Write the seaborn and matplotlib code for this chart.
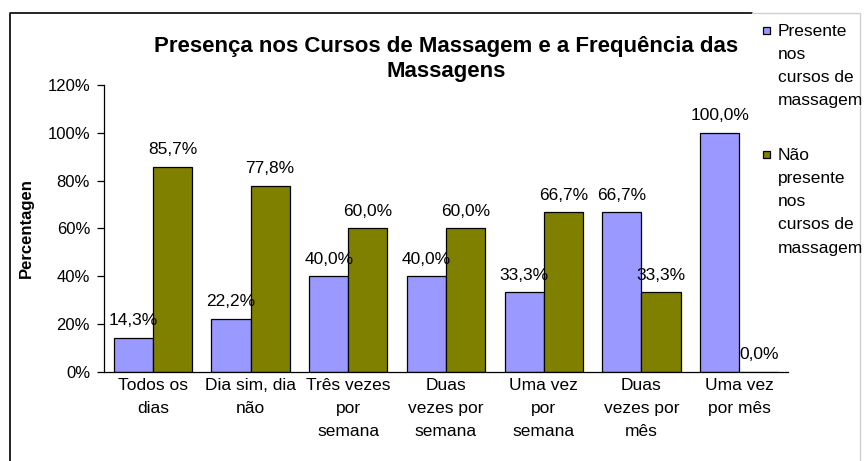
import numpy as np
import pandas as pd
import matplotlib
matplotlib.use('Agg')
import matplotlib.pyplot as plt
import seaborn as sns
from matplotlib.lines import Line2D
from matplotlib.patches import Rectangle

# Data
categorias = ["Todos os\ndias", "Dia sim, dia\nnão", "Três vezes\npor\nsemana",
              "Duas\nvezes por\nsemana", "Uma vez\npor\nsemana", "Duas\nvezes por\nmês",
              "Uma vez\npor mês"]
presente = [14.3, 22.2, 40.0, 40.0, 33.3, 66.7, 100.0]
nao_presente = [85.7, 77.8, 60.0, 60.0, 66.7, 33.3, 0.0]
series = ["Presente\nnos\ncursos de\nmassagem", "Não\npresente\nnos\ncursos de\nmassagem"]
cores = ["#9999FF", "#808000"]

df = pd.DataFrame({
    "Categoria": categorias * 2,
    "Valor": presente + nao_presente,
    "Serie": [series[0]] * len(categorias) + [series[1]] * len(categorias),
})

sns.set_style("white")
plt.rcParams['font.family'] = ['Liberation Sans', 'DejaVu Sans']
plt.rcParams['text.color'] = 'black'
plt.rcParams['axes.labelcolor'] = 'black'
plt.rcParams['xtick.color'] = 'black'
plt.rcParams['ytick.color'] = 'black'

W, H = 865, 461
fs = 12.5
fx = lambda px: px / W
fy = lambda py: 1 - py / H

fig = plt.figure(figsize=(W / 100, H / 100), dpi=100)
ax = fig.add_axes([fx(104), fy(372), (788 - 104) / W, (372 - 85) / H])

sns.barplot(data=df, x="Categoria", y="Valor", hue="Serie", palette=cores, saturation=1,
            edgecolor="black", linewidth=0.9, width=0.8, ax=ax, legend=False)

# data labels
for cont, vals in zip(ax.containers, [presente, nao_presente]):
    ax.bar_label(cont, labels=[f"{v:.1f}%".replace(".", ",") for v in vals],
                 padding=7, fontsize=fs)

ax.set_ylim(0, 120)
ax.set_yticks(np.arange(0, 121, 20))
ax.set_yticklabels([f"{t}%" for t in range(0, 121, 20)], fontsize=12)
ax.set_xlim(-0.5, len(categorias) - 0.5)
ax.set_xticks(range(len(categorias)))
ax.set_xticklabels(categorias, fontsize=fs, linespacing=1.7, va="top")
ax.set_xticks(np.arange(-0.5, len(categorias), 1), minor=True)
ax.tick_params(axis="x", which="major", length=0, pad=4)
ax.tick_params(axis="x", which="minor", length=5, width=0.9, direction="out")
ax.tick_params(axis="y", length=5, width=0.9, direction="out", left=True, pad=5)
ax.set_xlabel("")
ax.set_ylabel("Percentagen", fontsize=12, fontweight="bold", labelpad=10)
for s in ["top", "right"]:
    ax.spines[s].set_visible(False)
for s in ["left", "bottom"]:
    ax.spines[s].set_color("black")
    ax.spines[s].set_linewidth(0.9)

fig.text(fx(446), fy(59), "Presença nos Cursos de Massagem e a Frequência das\nMassagens",
         ha="center", va="center", fontsize=16, fontweight="bold", linespacing=1.3)

# outer chart border: black left/top, light grey on the legend side
fig.add_artist(Line2D([fx(10), fx(10), fx(752)], [0, fy(13), fy(13)],
                      transform=fig.transFigure, color="black", linewidth=1.2))
fig.add_artist(Line2D([fx(752), fx(860), fx(860)], [fy(13), fy(13), 0],
                      transform=fig.transFigure, color="#d0d0d0", linewidth=1.0))

# legend: marker aligned with the first line of each label
for nome, cor, y0 in zip(series, cores, [24, 148]):
    fig.add_artist(Rectangle((fx(763), fy(y0 + 10)), 7 / W, 7 / H, transform=fig.transFigure,
                             facecolor=cor, edgecolor="black", linewidth=0.9))
    fig.text(fx(778), fy(y0), nome, ha="left", va="top", fontsize=fs, linespacing=1.68)

fig.savefig("out.png", dpi=100)
